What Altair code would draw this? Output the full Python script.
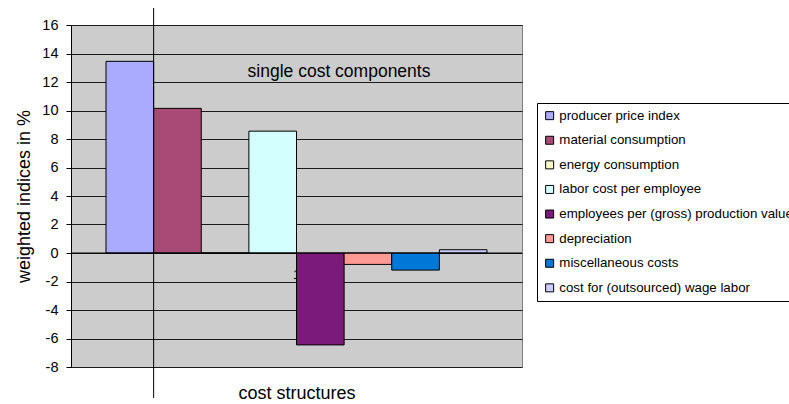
import altair as alt
import pandas as pd

components = [
    "producer price index",
    "material consumption",
    "energy consumption",
    "labor cost per employee",
    "employees per (gross) production value",
    "depreciation",
    "miscellaneous costs",
    "cost for (outsourced) wage labor",
]
values = [13.45, 10.15, 0.0, 8.55, -6.45, -0.8, -1.2, 0.23]
colors = ["#AAAAFF", "#A94A76", "#FFFFCC", "#D4FFFF", "#7B1A78", "#FF9A96", "#0078D7", "#CCCCFF"]
y_ticks = list(range(-8, 17, 2))
category_label = "1"
annotation = "single cost components"

FONT = "Liberation Sans"
W, H = 451, 342

df = pd.DataFrame({"component": components, "value": values})

xscale = alt.Scale(domain=components, paddingInner=0, paddingOuter=0.735)
yscale = alt.Scale(domain=[-8, 16], nice=False, zero=False)

xaxis = alt.Axis(labels=False, ticks=False, domain=False, grid=False,
                 title="cost structures", titleFont=FONT, titleFontSize=18,
                 titleFontWeight="normal", titleColor="black", titlePadding=17)
yaxis = alt.Axis(values=y_ticks, grid=True, gridColor="#1a1a1a", gridWidth=1,
                 gridOpacity=1, domainColor="black", tickColor="black", tickSize=5,
                 labelOverlap=False, labelExpr="datum.value + ''",
                 labelFont=FONT, labelFontSize=14.5, labelColor="black", labelPadding=8,
                 title="weighted indices in %", titleFont=FONT, titleFontSize=18,
                 titleFontWeight="normal", titleColor="black", titlePadding=8)

bars = alt.Chart(df).mark_bar(stroke="black", strokeWidth=1).encode(
    x=alt.X("component:N", scale=xscale, sort=components, axis=xaxis),
    y=alt.Y("value:Q", scale=yscale, axis=yaxis),
    color=alt.Color("component:N", sort=components,
                    scale=alt.Scale(domain=components, range=colors),
                    legend=alt.Legend(title=None, orient="none", legendX=466, legendY=78,
                                      symbolType="square", symbolSize=64,
                                      symbolStrokeColor="black", symbolStrokeWidth=1,
                                      labelFont=FONT, labelFontSize=13.3, labelColor="black",
                                      labelLimit=500, labelOffset=3, rowPadding=10.6,
                                      padding=6, fillColor="white", strokeColor="black")),
)

lab_df = pd.DataFrame({"component": [components[4]], "value": [-1.55], "t": [category_label]})
cat_label = alt.Chart(lab_df).mark_text(font=FONT, fontSize=13, color="black",
                                        baseline="middle", align="center").encode(
    x=alt.X("component:N", scale=xscale, sort=components, bandPosition=0, axis=xaxis),
    y=alt.Y("value:Q", scale=yscale, axis=yaxis),
    text="t:N",
)

zero = alt.Chart(pd.DataFrame({"value": [0]})).mark_rule(color="black", strokeWidth=1.2).encode(
    y=alt.Y("value:Q", scale=yscale, axis=yaxis)
)

vline_df = pd.DataFrame({"component": [components[1]]})
vline = alt.Chart(vline_df).mark_rule(color="black", strokeWidth=1).encode(
    x=alt.X("component:N", scale=xscale, sort=components, bandPosition=0, axis=xaxis),
    y=alt.value(-17),
    y2=alt.value(373),
)

ann_df = pd.DataFrame({"value": [12.7], "t": [annotation]})
ann = alt.Chart(ann_df).mark_text(font=FONT, fontSize=17.5, color="black",
                                  align="center", baseline="middle").encode(
    x=alt.value(268),
    y=alt.Y("value:Q", scale=yscale, axis=yaxis),
    text="t:N",
)

chart = alt.layer(cat_label, bars, zero, ann, vline).properties(
    width=W, height=H,
    autosize=alt.AutoSizeParams(type="none"),
    padding={"left": 71, "top": 25, "right": 267, "bottom": 37},
    background="white",
).configure_view(
    fill="#CCCCCC", stroke="#808080", strokeWidth=1
)

chart.save("out.html", embed_options={"renderer": "svg", "actions": False})
